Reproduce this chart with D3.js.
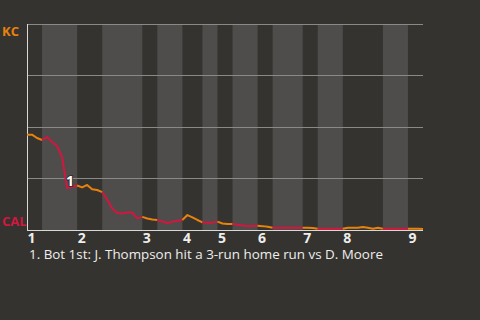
<!DOCTYPE html>
<html>
<head>
<meta charset="utf-8">
<script src="https://cdn.jsdelivr.net/npm/d3@7"></script>
<style>
  html, body { margin: 0; padding: 0; background: #35332f; }
  svg { display: block; }
</style>
</head>
<body>
<svg id="chart" width="480" height="320"></svg>
<script>
// Teams: top of the axis is the visitor, bottom is the home side
const awayTeam = "KC";
const homeTeam = "CAL";

// Inning labels and the event index where each half-inning begins
const innings = ["1", "2", "3", "4", "5", "6", "7", "8", "9"];
const halfStarts = [0, 3, 10, 15, 23, 26, 31, 35, 38, 41, 46, 49, 55, 58, 63, 71, 76];
const totalEvents = 79;

// Visitor win probability after each plate appearance (index 0 = first pitch)
const winProb = [
  0.460, 0.460, 0.444, 0.434,
  0.449, 0.424, 0.405, 0.351, 0.200, 0.205, 0.212,
  0.203, 0.215, 0.194, 0.190, 0.180,
  0.144, 0.100, 0.078, 0.076, 0.080, 0.080, 0.052, 0.059,
  0.051, 0.046, 0.044,
  0.037, 0.028, 0.036, 0.040, 0.044,
  0.068, 0.057, 0.044, 0.032,
  0.031, 0.031, 0.036,
  0.027, 0.024, 0.024,
  0.021, 0.017, 0.015, 0.015, 0.016,
  0.014, 0.011, 0.006,
  0.006, 0.006, 0.006, 0.006, 0.006, 0.006,
  0.006, 0.005, 0.001,
  0.001, 0.001, 0.001, 0.001, 0.001,
  0.006, 0.006, 0.006, 0.010, 0.006, 0.001, 0.006, 0.001,
  0.001, 0.001, 0.001, 0.001, 0.001,
  0.001, 0.001, 0.000
];

// Annotated plays
const noteIndex = [8];
const noteLabel = ["1"];
const noteText = ["1. Bot 1st: J. Thompson hit a 3-run home run vs D. Moore"];

const gridValues = [0.25, 0.5, 0.75, 1];

const colors = {
  bg: "#35332f",
  band: "#4e4d4b",
  grid: "#8a8986",
  axis: "#d8d8d6",
  away: "#e8820e",
  home: "#d4163f",
  text: "#eeeeec"
};

const svg = d3.select("#chart");
const plotLeft = 27, plotRight = 423, plotTop = 24, plotBottom = 229;

const x = d3.scaleLinear().domain([0, totalEvents]).range([plotLeft, plotRight]);
const y = d3.scaleLinear().domain([0, 1]).range([plotBottom, plotTop]);

svg.append("rect").attr("width", 480).attr("height", 320).attr("fill", colors.bg);

// Half-inning spans: even = top (visitor bats), odd = bottom (home bats)
const halves = halfStarts.map((s, i) => ({
  start: s,
  end: i + 1 < halfStarts.length ? halfStarts[i + 1] : totalEvents,
  bottomHalf: i % 2 === 1
}));

svg.append("g").selectAll("rect")
  .data(halves.filter(h => h.bottomHalf))
  .join("rect")
  .attr("x", d => x(d.start))
  .attr("width", d => x(d.end) - x(d.start))
  .attr("y", plotTop)
  .attr("height", plotBottom - plotTop + 1)
  .attr("fill", colors.band);

// Horizontal gridlines
svg.append("g").selectAll("line")
  .data(gridValues)
  .join("line")
  .attr("x1", plotLeft).attr("x2", plotRight)
  .attr("y1", d => Math.round(y(d)) + 0.5)
  .attr("y2", d => Math.round(y(d)) + 0.5)
  .attr("stroke", colors.grid)
  .attr("stroke-width", 1);

// Axis frame: left edge and baseline
svg.append("line")
  .attr("x1", plotLeft + 0.5).attr("x2", plotLeft + 0.5)
  .attr("y1", plotTop).attr("y2", plotBottom + 1.5)
  .attr("stroke", colors.axis).attr("stroke-width", 1);
svg.append("line")
  .attr("x1", plotLeft).attr("x2", plotRight)
  .attr("y1", plotBottom + 1.5).attr("y2", plotBottom + 1.5)
  .attr("stroke", colors.axis).attr("stroke-width", 1);

// Win probability line, coloured by which team is batting
const line = d3.line()
  .x(d => x(d))
  .y(d => y(winProb[d]));

svg.append("g").selectAll("path")
  .data(halves)
  .join("path")
  .attr("d", h => line(d3.range(h.start, h.end + 1)))
  .attr("fill", "none")
  .attr("stroke", h => h.bottomHalf ? colors.home : colors.away)
  .attr("stroke-width", 2)
  .attr("stroke-linejoin", "round");

// Inning labels at the start of each top half
svg.append("g").selectAll("text")
  .data(innings)
  .join("text")
  .attr("x", (d, i) => x(halfStarts[i * 2]) + 0.5)
  .attr("y", 243)
  .attr("fill", colors.text)
  .attr("font-family", "'Open Sans', sans-serif")
  .attr("font-weight", "bold")
  .attr("font-size", 14)
  .text(d => d);

// Team labels
svg.append("text")
  .attr("x", 2).attr("y", 36)
  .attr("fill", colors.away)
  .attr("font-family", "'Open Sans', sans-serif")
  .attr("font-weight", "bold")
  .attr("font-size", 13)
  .text(awayTeam);
svg.append("text")
  .attr("x", 2).attr("y", 226)
  .attr("fill", colors.home)
  .attr("font-family", "'Open Sans', sans-serif")
  .attr("font-weight", "bold")
  .attr("font-size", 13)
  .text(homeTeam);

// Play markers on the line
svg.append("g").selectAll("text")
  .data(noteIndex)
  .join("text")
  .attr("x", d => x(d) - 1)
  .attr("y", d => y(winProb[d]) - 2.5)
  .attr("fill", "#ffffff")
  .attr("stroke", colors.bg)
  .attr("stroke-width", 2)
  .attr("paint-order", "stroke")
  .attr("font-family", "'Open Sans', sans-serif")
  .attr("font-weight", "bold")
  .attr("font-size", 14)
  .text((d, i) => noteLabel[i]);

// Play descriptions
svg.append("g").selectAll("text")
  .data(noteText)
  .join("text")
  .attr("x", 29)
  .attr("y", 259)
  .attr("dy", (d, i) => i * 16)
  .attr("fill", colors.text)
  .attr("font-family", "'Open Sans', sans-serif")
  .attr("font-size", 13.4)
  .text(d => d);
</script>
</body>
</html>
